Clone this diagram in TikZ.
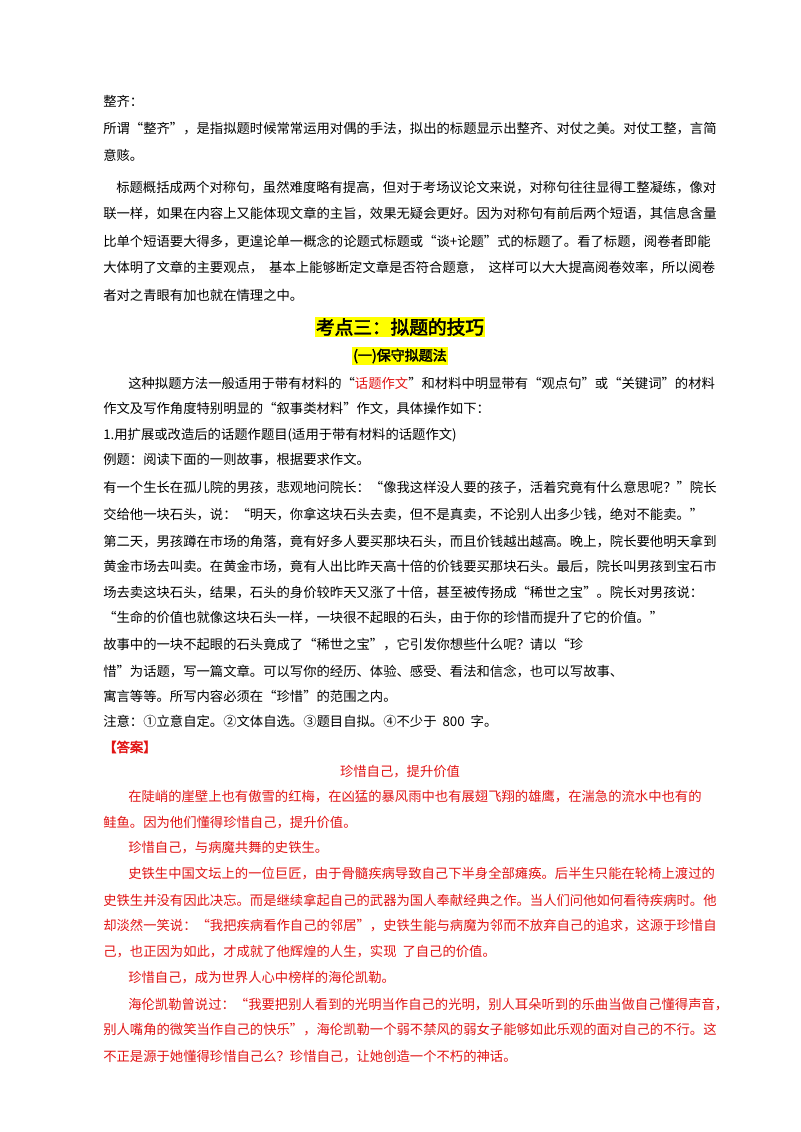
\documentclass[tikz,border=0pt]{standalone}
\usepackage{fontspec}
\setmainfont{Noto Sans CJK SC}[AutoFakeBold=2.5]
\definecolor{ared}{RGB}{225,20,20}
\definecolor{hl}{RGB}{255,255,0}
\tikzset{ln/.style={anchor=west,inner sep=0pt,font=\fontsize{10}{12}\selectfont},
 rd/.style={ln,text=ared},
 hd/.style={anchor=center,inner sep=1pt,fill=hl,font=\bfseries}}
\begin{document}
\begin{tikzpicture}[x=0.75pt,y=-0.75pt]
\useasboundingbox (0,0) rectangle (800,1132);
\node[ln] (l1) at (103,101) {整齐：};
\node[ln] (l2) at (103,129) {所谓“整齐”，是指拟题时候常常运用对偶的手法，拟出的标题显示出整齐、对仗之美。对仗工整，言简};
\node[ln] (l3) at (103,155) {意赅。};
\node[ln] (l4) at (116,188) {标题概括成两个对称句，虽然难度略有提高，但对于考场议论文来说，对称句往往显得工整凝练，像对};
\node[ln] (l5) at (103,214) {联一样，如果在内容上又能体现文章的主旨，效果无疑会更好。因为对称句有前后两个短语，其信息含量};
\node[ln] (l6) at (103,241) {比单个短语要大得多，更遑论单一概念的论题式标题或“谈+论题”式的标题了。看了标题，阅卷者即能};
\node[ln] (l7) at (103,268) {大体明了文章的主要观点，\ \ 基本上能够断定文章是否符合题意，\ \ 这样可以大大提高阅卷效率，所以阅卷};
\node[ln] (l8) at (103,295) {者对之青眼有加也就在情理之中。};
\node[hd,font=\bfseries\fontsize{14}{16}\selectfont] (h1) at (400,327) {考点三：拟题的技巧};
\node[hd,font=\bfseries\fontsize{10.5}{12}\selectfont] (h2) at (400,356) {(一)保守拟题法};
\node[ln] (l9) at (128,383) {这种拟题方法一般适用于带有材料的“\textcolor{ared}{话题作文}”和材料中明显带有“观点句”或“关键词”的材料};
\node[ln] (l10) at (103,409) {作文及写作角度特别明显的“叙事类材料”作文，具体操作如下：};
\node[ln] (l11) at (103,435) {1.用扩展或改造后的话题作题目(适用于带有材料的话题作文)};
\node[ln] (l12) at (103,460) {例题：阅读下面的一则故事，根据要求作文。};
\node[ln] (s1) at (103,488) {有一个生长在孤儿院的男孩，悲观地问院长：“像我这样没人要的孩子，活着究竟有什么意思呢？”院长};
\node[ln] (s2) at (103,514) {交给他一块石头，说：“明天，你拿这块石头去卖，但不是真卖，不论别人出多少钱，绝对不能卖。”};
\node[ln] (s3) at (103,541) {第二天，男孩蹲在市场的角落，竟有好多人要买那块石头，而且价钱越出越高。晚上，院长要他明天拿到};
\node[ln] (s4) at (103,567) {黄金市场去叫卖。在黄金市场，竟有人出比昨天高十倍的价钱要买那块石头。最后，院长叫男孩到宝石市};
\node[ln] (s5) at (103,593) {场去卖这块石头，结果，石头的身价较昨天又涨了十倍，甚至被传扬成“稀世之宝”。院长对男孩说：};
\node[ln] (s6) at (103,618) {“生命的价值也就像这块石头一样，一块很不起眼的石头，由于你的珍惜而提升了它的价值。”};
\node[ln] (q1) at (103,645) {故事中的一块不起眼的石头竟成了“稀世之宝”，它引发你想些什么呢？请以“珍};
\node[ln] (q2) at (103,671) {惜”为话题，写一篇文章。可以写你的经历、体验、感受、看法和信念，也可以写故事、};
\node[ln] (q3) at (103,696) {寓言等等。所写内容必须在“珍惜”的范围之内。};
\node[ln] (q4) at (103,721) {注意：①立意自定。②文体自选。③题目自拟。④不少于\ \ 800\ \ 字。};
\node[rd,font=\bfseries\fontsize{10}{12}\selectfont] (ans) at (103,747) {【答案】};
\node[rd,anchor=center] (t) at (400,772) {珍惜自己，提升价值};
\node[rd] (a1) at (128,797) {在陡峭的崖壁上也有傲雪的红梅，在凶猛的暴风雨中也有展翅飞翔的雄鹰，在湍急的流水中也有的};
\node[rd] (a2) at (103,823) {鲑鱼。因为他们懂得珍惜自己，提升价值。};
\node[rd] (a3) at (128,848) {珍惜自己，与病魔共舞的史铁生。};
\node[rd] (a4) at (128,874) {史铁生中国文坛上的一位巨匠，由于骨髓疾病导致自己下半身全部瘫痪。后半生只能在轮椅上渡过的};
\node[rd] (a5) at (103,900) {史铁生并没有因此决忘。而是继续拿起自己的武器为国人奉献经典之作。当人们问他如何看待疾病时。他};
\node[rd] (a6) at (103,926) {却淡然一笑说：“我把疾病看作自己的邻居”，史铁生能与病魔为邻而不放弃自己的追求，这源于珍惜自};
\node[rd] (a7) at (103,952) {己，也正因为如此，才成就了他辉煌的人生，实现\ \ 了自己的价值。};
\node[rd] (a8) at (128,978) {珍惜自己，成为世界人心中榜样的海伦凯勒。};
\node[rd] (a9) at (128,1005) {海伦凯勒曾说过：“我要把别人看到的光明当作自己的光明，别人耳朵听到的乐曲当做自己懂得声音，};
\node[rd] (a10) at (103,1030) {别人嘴角的微笑当作自己的快乐”，海伦凯勒一个弱不禁风的弱女子能够如此乐观的面对自己的不行。这};
\node[rd] (a11) at (103,1057) {不正是源于她懂得珍惜自己么？珍惜自己，让她创造一个不朽的神话。};
\end{tikzpicture}
\end{document}
